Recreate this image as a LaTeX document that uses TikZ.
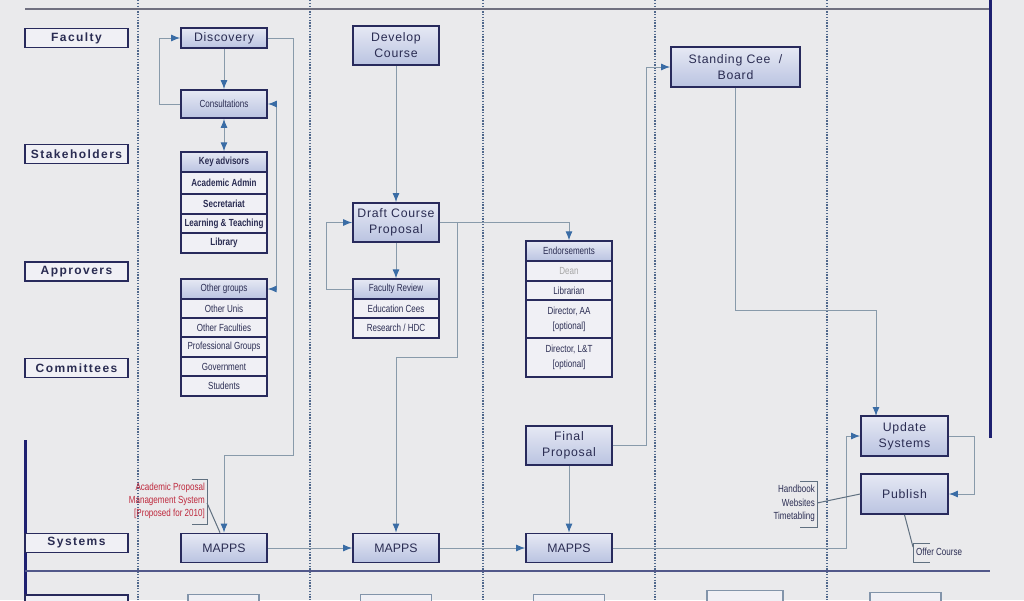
\documentclass[tikz,border=0pt]{standalone}
\usepackage{fontspec}
\setmainfont{Liberation Sans}
\newfontfamily\wfont[LetterSpace=6]{Liberation Sans}
\newfontfamily\lfont[LetterSpace=12]{Liberation Sans}
\newfontfamily\nfont[FakeStretch=0.78]{Liberation Sans}
\usetikzlibrary{arrows.meta}
\definecolor{bgc}{RGB}{234,234,236}
\definecolor{navy}{RGB}{40,42,92}
\definecolor{txtc}{RGB}{42,44,82}
\definecolor{boxtop}{RGB}{230,233,244}
\definecolor{boxbot}{RGB}{186,195,225}
\definecolor{rowc}{RGB}{240,240,245}
\definecolor{linec}{RGB}{136,154,170}
\definecolor{arrowc}{RGB}{58,108,165}
\definecolor{divc}{RGB}{80,104,140}
\definecolor{topc}{RGB}{112,112,128}
\definecolor{botc}{RGB}{82,88,138}
\definecolor{vnavy}{RGB}{30,32,112}
\definecolor{redc}{RGB}{190,40,60}
\definecolor{brkc}{RGB}{96,112,128}
\definecolor{ghostc}{RGB}{130,148,170}
\begin{document}
\begin{tikzpicture}[x=1pt,y=-1pt,
  lane/.style={draw=navy, line width=1.9pt, fill=rowc, text=txtc,
    font=\lfont\bfseries\fontsize{12}{14}\selectfont,
    minimum width=103pt, minimum height=19pt, inner sep=0pt},
  pbox/.style={draw=navy, line width=1.7pt, top color=boxtop, bottom color=boxbot,
    text=txtc, font=\wfont\fontsize{12.3}{16}\selectfont, align=center,
    minimum width=86pt, inner sep=0pt},
  srow/.style={draw=navy, line width=1.3pt, fill=rowc, text=txtc,
    font=\nfont\fontsize{10.3}{12}\selectfont, align=center,
    minimum width=86pt, inner sep=0pt},
  shdr/.style={srow, top color=boxtop, bottom color=boxbot},
  ghost/.style={draw=ghostc, line width=1.4pt, fill=rowc, minimum width=71pt,
    minimum height=20pt, inner sep=0pt, anchor=north},
  divider/.style={draw=divc, line width=1.3pt, dash pattern=on 1.3pt off 1.5pt},
  line/.style={draw=linec, line width=1pt},
  conn/.style={line, -{Latex[length=9pt,width=7pt,color=arrowc]}},
  dconn/.style={line, {Latex[length=9pt,width=7pt,color=arrowc]}-{Latex[length=9pt,width=7pt,color=arrowc]}},
  brk/.style={draw=brkc, line width=1pt},
  anno/.style={font=\nfont\fontsize{10.3}{13.3}\selectfont, inner sep=0pt}
]
\useasboundingbox (0,0) rectangle (1024,600);
\fill[bgc] (0,0) rectangle (1024,600);
\clip (0,0) rectangle (1024,600);

% lane dividers and frame lines
\foreach \x in {138,310,483,655,827} \draw[divider] (\x,0) -- (\x,600);
\draw[draw=topc, line width=2pt] (25,9) -- (990,9);
\draw[draw=vnavy, line width=3pt] (990,0) -- (990,438);
\draw[draw=vnavy, line width=3pt] (25,440) -- (25,600);
\draw[draw=botc, line width=1.6pt] (25,571) -- (990,571);

% lane labels
\node[lane] (lfac) at (76.5,38) {Faculty};
\node[lane] (lsta) at (76.5,154) {Stakeholders};
\node[lane] (lapp) at (76.5,271.5) {Approvers};
\node[lane] (lcom) at (76.5,368) {Committees};
\node[lane] (lsys) at (76.5,543) {Systems};
\node[lane, anchor=north] (lnext) at (76.5,594) {};

% next row (cut off)
\node[ghost] (g1) at (223.5,594) {};
\node[ghost] (g2) at (396,594) {};
\node[ghost] (g3) at (569,594) {};
\node[ghost, minimum width=76pt] (g4) at (745,590) {};
\node[ghost] (g5) at (905.5,592) {};

% process boxes
\node[pbox, minimum height=20pt] (disc) at (224,38) {Discovery};
\node[pbox, minimum height=28pt, font=\nfont\fontsize{10.3}{12}\selectfont] (cons) at (224,104) {Consultations};
\node[pbox, minimum height=39pt] (dev) at (396,45.5) {Develop\\Course};
\node[pbox, minimum height=39pt] (draft) at (396,222.5) {Draft Course\\Proposal};
\node[pbox, minimum width=129pt, minimum height=40pt] (sc) at (735.5,67) {Standing Cee \ /\\Board};
\node[pbox, minimum height=39pt] (final) at (569,445.5) {Final\\Proposal};
\node[pbox, minimum height=29pt, font=\fontsize{12.3}{14}\selectfont] (m1) at (224,548) {MAPPS};
\node[pbox, minimum height=29pt, font=\fontsize{12.3}{14}\selectfont] (m2) at (396,548) {MAPPS};
\node[pbox, minimum height=29pt, font=\fontsize{12.3}{14}\selectfont] (m3) at (569,548) {MAPPS};
\node[pbox, minimum width=87pt, minimum height=40pt] (upd) at (904.5,436) {Update\\Systems};
\node[pbox, minimum width=87pt, minimum height=40pt] (pub) at (904.5,494) {Publish};

% key advisors stack
\node[shdr, minimum height=20pt, font=\nfont\bfseries\fontsize{10.3}{12}\selectfont] (ka) at (224,162) {Key advisors};
\node[srow, minimum height=22pt, font=\nfont\bfseries\fontsize{10.3}{12}\selectfont] (kaa) at (224,183) {Academic Admin};
\node[srow, minimum height=20pt, font=\nfont\bfseries\fontsize{10.3}{12}\selectfont] (ksec) at (224,204) {Secretariat};
\node[srow, minimum height=19pt, font=\nfont\bfseries\fontsize{10.3}{12}\selectfont] (klt) at (224,223.5) {Learning \& Teaching};
\node[srow, minimum height=20pt, font=\nfont\bfseries\fontsize{10.3}{12}\selectfont] (klib) at (224,243) {Library};

% other groups stack
\node[shdr, minimum height=20pt] (og) at (224,289) {Other groups};
\node[srow, minimum height=19pt] (ou) at (224,308.5) {Other Unis};
\node[srow, minimum height=19pt] (of) at (224,327.5) {Other Faculties};
\node[srow, minimum height=20pt] (pg) at (224,347) {Professional Groups};
\node[srow, minimum height=19pt] (gov) at (224,366.5) {Government};
\node[srow, minimum height=20pt] (stu) at (224,386) {Students};

% faculty review stack
\node[shdr, minimum height=20pt] (fr) at (396,289) {Faculty Review};
\node[srow, minimum height=19pt] (ec) at (396,308.5) {Education Cees};
\node[srow, minimum height=20pt] (rh) at (396,328) {Research / HDC};

% endorsements stack
\node[shdr, minimum height=20pt] (en) at (569,251) {Endorsements};
\node[srow, minimum height=20pt, text=black!35] (dean) at (569,271) {Dean};
\node[srow, minimum height=19pt] (lib2) at (569,290.5) {Librarian};
\node[srow, minimum height=38pt, font=\nfont\fontsize{10.3}{15}\selectfont] (daa) at (569,319) {Director, AA\\{[}optional{]}};
\node[srow, minimum height=39pt, font=\nfont\fontsize{10.3}{15}\selectfont] (dlt) at (569,357.5) {Director, L\&T\\{[}optional{]}};

% connectors column 1
\draw[conn] (disc) -- (cons);
\draw[conn] (cons.west) -- ++(-21,0) |- (disc.west);
\draw[dconn] (cons) -- (ka);
\draw[conn] (disc.east) -- (293,38) -- (293,455) -| (m1.north);
\coordinate (b1) at (276,104);
\coordinate (b2) at (276,289);
\draw[line] (b1) -- (b2);
\draw[conn] (b1) -- (cons.east);
\draw[conn] (b2) -- (og.east);

% connectors column 2
\draw[conn] (dev) -- (draft);
\draw[conn] (draft) -- (fr);
\draw[conn] (fr.west) -- ++(-26,0) |- (draft.west);
\draw[conn] (draft.east) -| (en.north);
\draw[conn] (draft.east) -- (457,222.5) -- (457,357) -| (m2.north);

% systems row
\draw[conn] (m1.east) -- (m2.west);
\draw[conn] (m2.east) -- (m3.west);
\draw[conn] (final) -- (m3);
\draw[conn] (final.east) -- (646,445.5) |- (sc.west);
\coordinate (uin) at (876,416);
\draw[conn] (sc.south) -- (735.5,310) -| (uin);
\draw[conn] (m3.east) -- (846,548) |- (upd.west);
\draw[conn] (upd.east) -- (974,436) |- (pub.east);

% annotations
\node[anno, text=redc, align=right, anchor=east] (aps) at (205,501) {Academic Proposal\\Management System\\{[}Proposed for 2010{]}};
\draw[brk] (192,479) -- (207,479) -- (207,524) -- (192,524);
\coordinate (apsb) at (207,503);
\draw[brk] (apsb) -- ([xshift=-4pt]m1.north);

\node[anno, text=txtc, align=right, anchor=east] (hwt) at (815,503.5) {Handbook\\Websites\\Timetabling};
\draw[brk] (800,481) -- (817,481) -- (817,527) -- (800,527);
\coordinate (hwtb) at (817,503);
\draw[brk] (hwtb) -- (pub.west);

\node[anno, text=txtc, anchor=west] (offer) at (916,552) {Offer Course};
\draw[brk] (930,543) -- (913,543) -- (913,562) -- (930,562);
\coordinate (offb) at (913,547);
\draw[brk] (pub.south) -- (offb);
\end{tikzpicture}
\end{document}
